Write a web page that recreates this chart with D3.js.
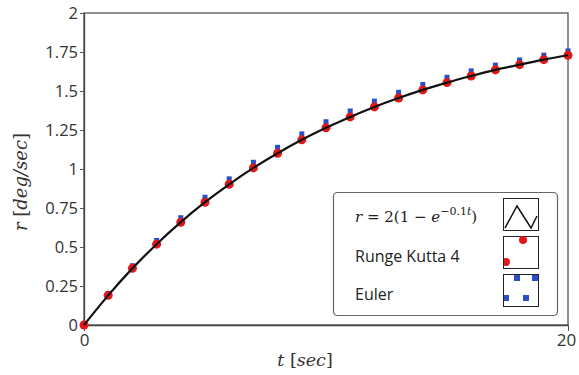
<!DOCTYPE html>
<html>
<head>
<meta charset="utf-8">
<script src="https://cdn.jsdelivr.net/npm/d3@7"></script>
<style>
  body { margin: 0; background: #fff; }
  svg { display: block; }
</style>
</head>
<body>
<svg id="chart" width="579" height="375"></svg>
<script>
// time steps (sec)
const times = [0, 1, 2, 3, 4, 5, 6, 7, 8, 9, 10, 11, 12, 13, 14, 15, 16, 17, 18, 19, 20];
// analytic r = 2(1 - e^-0.1t)
const exact = [0, 0.190, 0.363, 0.518, 0.659, 0.787, 0.902, 1.007, 1.101, 1.187, 1.264,
  1.334, 1.398, 1.455, 1.507, 1.554, 1.596, 1.635, 1.669, 1.701, 1.729];
// Runge Kutta 4 points
const rk4 = [0, 0.190, 0.363, 0.518, 0.659, 0.787, 0.902, 1.007, 1.101, 1.187, 1.264,
  1.334, 1.398, 1.455, 1.507, 1.554, 1.596, 1.635, 1.669, 1.701, 1.729];
// Euler points
const euler = [0, 0.200, 0.380, 0.542, 0.688, 0.819, 0.937, 1.043, 1.139, 1.225, 1.303,
  1.372, 1.435, 1.492, 1.542, 1.588, 1.629, 1.666, 1.699, 1.730, 1.757];
const yTicks = [0, 0.25, 0.5, 0.75, 1, 1.25, 1.5, 1.75, 2];
const xTicks = [0, 20];

const svg = d3.select('#chart');
const x = d3.scaleLinear().domain([0, 20]).range([84, 568]);
const y = d3.scaleLinear().domain([0, 2]).range([325, 13]);
const sans = '"Open Sans", "Noto Sans", sans-serif';
const serif = '"DejaVu Serif", "Liberation Serif", serif';

// frame
svg.append('rect')
  .attr('x', 84).attr('y', 13)
  .attr('width', 484).attr('height', 312)
  .attr('fill', 'none').attr('stroke', '#555').attr('stroke-width', 1.3);

// y axis
const gy = svg.append('g').attr('transform', 'translate(84,0)')
  .call(d3.axisLeft(y).tickValues(yTicks).tickSize(4).tickSizeOuter(0)
    .tickFormat(d => String(d)));
gy.select('.domain').attr('stroke', '#444').attr('stroke-width', 1.3);
gy.selectAll('.tick line').attr('stroke', '#555');
gy.selectAll('.tick text').attr('font-family', sans).attr('font-size', 16.5)
  .attr('fill', '#333').attr('x', -6);

// x axis
const gx = svg.append('g').attr('transform', 'translate(0,325)')
  .call(d3.axisBottom(x).tickValues(xTicks).tickSize(6).tickSizeOuter(0)
    .tickFormat(d => String(d)));
gx.select('.domain').attr('stroke', '#444').attr('stroke-width', 1.3);
gx.selectAll('.tick line').attr('stroke', '#555');
gx.selectAll('.tick text').attr('font-family', sans).attr('font-size', 17)
  .attr('fill', '#333').attr('y', 9);
gx.selectAll('.tick text').filter(d => d === 20).attr('dx', -2);

// markers
const sq = 5;
svg.append('g').selectAll('rect')
  .data(times)
  .join('rect')
  .attr('x', (d, i) => x(d) - sq / 2)
  .attr('y', (d, i) => y(euler[i]) - sq / 2)
  .attr('width', sq).attr('height', sq)
  .attr('fill', '#2a4fc9');

svg.append('g').selectAll('circle')
  .data(times)
  .join('circle')
  .attr('cx', d => x(d))
  .attr('cy', (d, i) => y(rk4[i]))
  .attr('r', 4.5)
  .attr('fill', '#e01818');

const line = d3.line()
  .x(d => x(d))
  .y((d, i) => y(exact[i]))
  .curve(d3.curveNatural);
svg.append('path')
  .datum(times)
  .attr('d', line)
  .attr('fill', 'none')
  .attr('stroke', '#111')
  .attr('stroke-width', 2.2);

// axis titles
const yt = svg.append('text')
  .attr('transform', 'translate(27,182) rotate(-90)')
  .attr('text-anchor', 'middle')
  .attr('font-family', serif).attr('font-size', 18).attr('fill', '#333');
yt.append('tspan').attr('font-style', 'italic').text('r');
yt.append('tspan').text(' [');
yt.append('tspan').attr('font-style', 'italic').text('deg/sec');
yt.append('tspan').text(']');

const xt = svg.append('text')
  .attr('x', 305).attr('y', 366)
  .attr('text-anchor', 'middle')
  .attr('font-family', serif).attr('font-size', 17.5).attr('fill', '#333');
xt.append('tspan').attr('font-style', 'italic').text('t');
xt.append('tspan').text(' [');
xt.append('tspan').attr('font-style', 'italic').text('sec');
xt.append('tspan').text(']');

// legend
const lg = svg.append('g');
lg.append('rect')
  .attr('x', 333.5).attr('y', 192.5)
  .attr('width', 224).attr('height', 123)
  .attr('rx', 4)
  .attr('fill', '#fff').attr('stroke', '#666').attr('stroke-width', 1.2);

const ft = lg.append('text')
  .attr('x', 355).attr('y', 222)
  .attr('font-family', serif).attr('font-size', 15).attr('fill', '#222');
ft.append('tspan').attr('font-style', 'italic').text('r');
ft.append('tspan').text(' = 2(1 \u2212 ');
ft.append('tspan').attr('font-style', 'italic').text('e');
ft.append('tspan').attr('dy', -7).attr('font-size', 11).text('\u22120.1');
ft.append('tspan').attr('font-size', 11).attr('font-style', 'italic').text('t');
ft.append('tspan').attr('dy', 7).text(')');

lg.append('text').attr('x', 355).attr('y', 262)
  .attr('font-family', sans).attr('font-size', 16).attr('fill', '#222')
  .text('Runge Kutta 4');
lg.append('text').attr('x', 355).attr('y', 300)
  .attr('font-family', sans).attr('font-size', 16).attr('fill', '#222')
  .text('Euler');

const boxes = [198, 236, 274];
const defs = svg.append('defs');
boxes.forEach((by, i) => {
  defs.append('clipPath').attr('id', 'clip' + i)
    .append('rect').attr('x', 504).attr('y', by).attr('width', 35).attr('height', 33);
});
boxes.forEach((by, i) => {
  lg.append('rect')
    .attr('x', 503.5).attr('y', by + 0.5)
    .attr('width', 35).attr('height', 32)
    .attr('fill', '#fff').attr('stroke', '#222').attr('stroke-width', 1);
});

lg.append('path')
  .attr('d', 'M505,228 L517,206 L531,228 L537,216')
  .attr('fill', 'none').attr('stroke', '#111').attr('stroke-width', 1.5)
  .attr('clip-path', 'url(#clip0)');

lg.append('g').attr('clip-path', 'url(#clip1)')
  .selectAll('circle')
  .data([[523, 240], [506, 262]])
  .join('circle')
  .attr('cx', d => d[0]).attr('cy', d => d[1]).attr('r', 4)
  .attr('fill', '#e01818');

lg.append('g').attr('clip-path', 'url(#clip2)')
  .selectAll('rect')
  .data([[517, 278], [535, 278], [506, 298], [526, 298]])
  .join('rect')
  .attr('x', d => d[0] - 3).attr('y', d => d[1] - 3)
  .attr('width', 6).attr('height', 6)
  .attr('fill', '#2a4fc9');
</script>
</body>
</html>
